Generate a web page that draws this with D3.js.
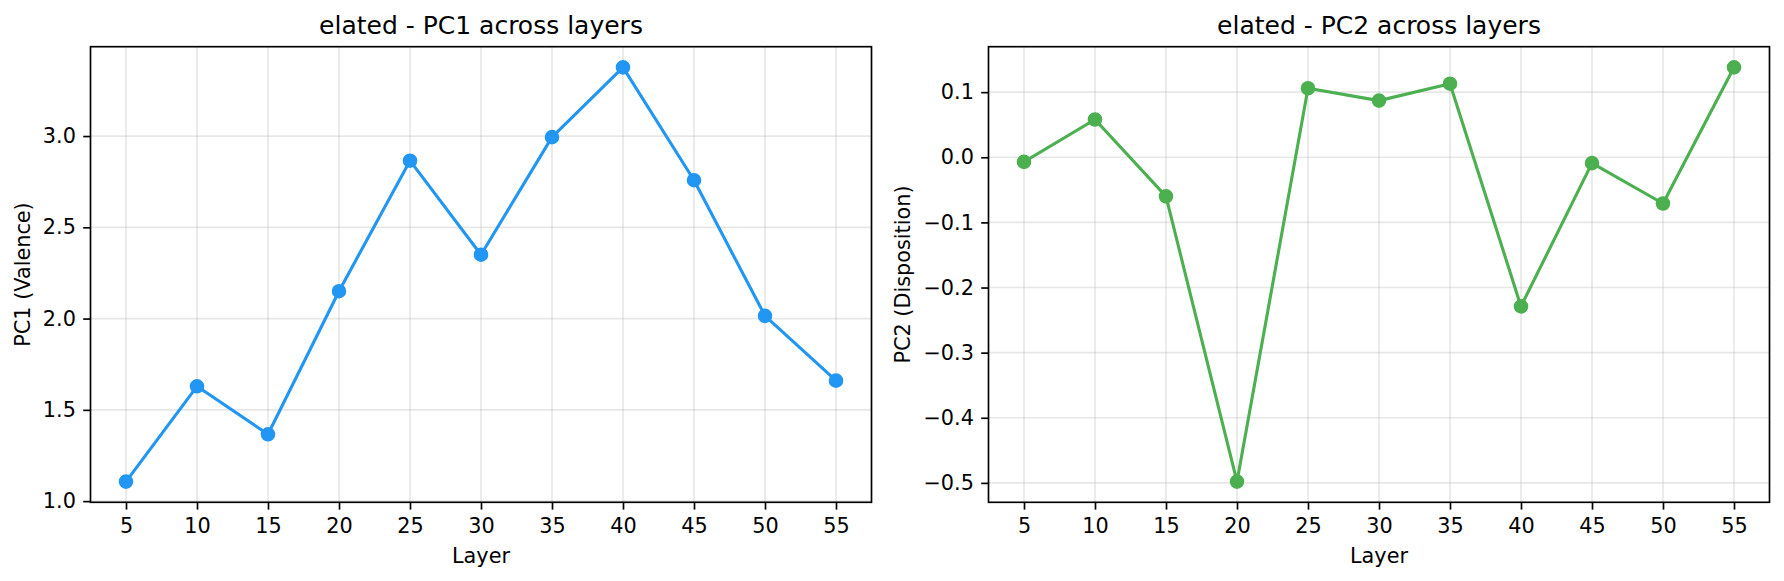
<!DOCTYPE html>
<html>
<head>
<meta charset="utf-8">
<script src="https://cdn.jsdelivr.net/npm/d3@7"></script>
<style>
  body { margin: 0; background: #fff; }
  svg { display: block; font-family: "DejaVu Sans", sans-serif; }
</style>
</head>
<body>
<script>
// data
const layers = [5, 10, 15, 20, 25, 30, 35, 40, 45, 50, 55];
const pc1Values = [1.107, 1.629, 1.366, 2.150, 2.865, 2.350, 2.994, 3.376, 2.758, 2.015, 1.660];
const pc2Values = [-0.007, 0.058, -0.060, -0.498, 0.106, 0.087, 0.113, -0.229, -0.009, -0.071, 0.138];
const pc1Ticks = [1.0, 1.5, 2.0, 2.5, 3.0];
const pc2Ticks = [-0.5, -0.4, -0.3, -0.2, -0.1, 0.0, 0.1];

const W = 1784, H = 581;
const svg = d3.select("body").append("svg")
  .attr("width", W)
  .attr("height", H);

const plotTop = 46.7, plotBottom = 502.3;
const fs = 20.8;       // 10pt at 150 dpi
const tickLen = 7.3, tickPad = 7.3;

function padded(vals, frac) {
  const [a, b] = d3.extent(vals);
  const m = (b - a) * frac;
  return [a - m, b + m];
}

function panel(opts) {
  const g = svg.append("g");
  const x = d3.scaleLinear().domain(padded(layers, 0.05)).range([opts.left, opts.right]);
  const y = d3.scaleLinear().domain(padded(opts.values, 0.05)).range([plotBottom, plotTop]);

  // grid
  g.append("g").selectAll("line").data(layers).enter().append("line")
    .attr("x1", d => x(d)).attr("x2", d => x(d))
    .attr("y1", plotTop).attr("y2", plotBottom)
    .attr("stroke", "#b0b0b0").attr("stroke-opacity", 0.3).attr("stroke-width", 1.67);
  g.append("g").selectAll("line").data(opts.ticks).enter().append("line")
    .attr("x1", opts.left).attr("x2", opts.right)
    .attr("y1", d => y(d)).attr("y2", d => y(d))
    .attr("stroke", "#b0b0b0").attr("stroke-opacity", 0.3).attr("stroke-width", 1.67);

  // line + markers
  const line = d3.line()
    .x((d, i) => x(layers[i]))
    .y(d => y(d));
  g.append("path")
    .attr("d", line(opts.values))
    .attr("fill", "none")
    .attr("stroke", opts.color)
    .attr("stroke-width", 3.1)
    .attr("stroke-linejoin", "round")
    .attr("stroke-linecap", "square");
  g.append("g").selectAll("circle").data(opts.values).enter().append("circle")
    .attr("cx", (d, i) => x(layers[i]))
    .attr("cy", d => y(d))
    .attr("r", 6.25)
    .attr("fill", opts.color)
    .attr("stroke", opts.color)
    .attr("stroke-width", 2.08);

  // frame
  g.append("rect")
    .attr("x", opts.left).attr("y", plotTop)
    .attr("width", opts.right - opts.left).attr("height", plotBottom - plotTop)
    .attr("fill", "none").attr("stroke", "#000").attr("stroke-width", 1.67);

  // axes
  const xAxis = d3.axisBottom(x).tickValues(layers)
    .tickSize(tickLen).tickPadding(tickPad).tickFormat(d3.format("d"));
  const xg = g.append("g").attr("transform", `translate(0,${plotBottom})`).call(xAxis);
  const yAxis = d3.axisLeft(y).tickValues(opts.ticks)
    .tickSize(tickLen).tickPadding(tickPad).tickFormat(d3.format(".1f"));
  const yg = g.append("g").attr("transform", `translate(${opts.left},0)`).call(yAxis);
  [xg, yg].forEach(a => {
    a.select(".domain").remove();
    a.selectAll(".tick line").attr("stroke", "#000").attr("stroke-width", 1.67);
    a.selectAll(".tick text")
      .attr("fill", "#000")
      .style("font-size", fs + "px")
      .style("font-family", "DejaVu Sans");
  });
  xg.selectAll(".tick text").attr("dy", "0.78em");

  // title and labels
  const cx = (opts.left + opts.right) / 2;
  g.append("text")
    .attr("x", cx).attr("y", 34)
    .attr("text-anchor", "middle")
    .style("font-size", "25px")
    .text(opts.title);
  g.append("text")
    .attr("x", cx).attr("y", 563)
    .attr("text-anchor", "middle")
    .style("font-size", fs + "px")
    .text("Layer");
  g.append("text")
    .attr("transform", `translate(${opts.labelX},${(plotTop + plotBottom) / 2}) rotate(-90)`)
    .attr("text-anchor", "middle")
    .style("font-size", fs + "px")
    .text(opts.ylabel);
}

panel({
  left: 90.5, right: 871.5,
  values: pc1Values, ticks: pc1Ticks,
  color: "#2196F3",
  title: "elated - PC1 across layers",
  ylabel: "PC1 (Valence)",
  labelX: 29.6
});

panel({
  left: 988.5, right: 1769.5,
  values: pc2Values, ticks: pc2Ticks,
  color: "#4CAF50",
  title: "elated - PC2 across layers",
  ylabel: "PC2 (Disposition)",
  labelX: 910
});
</script>
</body>
</html>
